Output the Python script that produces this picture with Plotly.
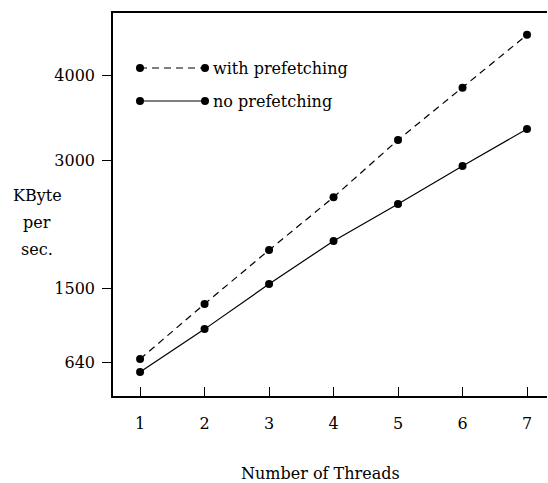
import plotly.graph_objects as go

threads = [1, 2, 3, 4, 5, 6, 7]
with_prefetching = [675, 1320, 1950, 2570, 3240, 3850, 4470]
no_prefetching = [523, 1025, 1553, 2057, 2490, 2935, 3368]
y_ticks = [640, 1500, 3000, 4000]
x_ticks = [1, 2, 3, 4, 5, 6, 7]
series_names = ["with prefetching", "no prefetching"]
y_title_lines = ["KByte", "per", "sec."]

FONT = "DejaVu Serif"
fig = go.Figure()
fig.add_trace(go.Scatter(
    x=threads, y=with_prefetching, mode="lines+markers", name=series_names[0],
    line=dict(color="black", width=1.2, dash="7px,5px"),
    marker=dict(color="black", size=8), showlegend=False))
fig.add_trace(go.Scatter(
    x=threads, y=no_prefetching, mode="lines+markers", name=series_names[1],
    line=dict(color="black", width=1.2),
    marker=dict(color="black", size=8), showlegend=False))

W, H = 548, 483
L, R, T, B = 113, 1, 13, 87
pw, ph = W - L - R, H - T - B

def px(xp):
    return (xp - L) / pw

def py(yp):
    return (H - B - yp) / ph

shapes = []
annotations = []
legend_rows = [(68, "7px,5px", series_names[0]), (101, "solid", series_names[1])]
for ypix, dash, name in legend_rows:
    shapes.append(dict(type="line", xref="paper", yref="paper",
                       x0=px(140), x1=px(205), y0=py(ypix), y1=py(ypix),
                       line=dict(color="black", width=1.2, dash=dash)))
    for xc in (140, 205):
        shapes.append(dict(type="circle", xref="paper", yref="paper",
                           x0=px(xc - 4), x1=px(xc + 4), y0=py(ypix + 4), y1=py(ypix - 4),
                           fillcolor="black", line=dict(color="black", width=0)))
    annotations.append(dict(xref="paper", yref="paper", x=px(211), y=py(ypix),
                            xanchor="left", yanchor="middle", text=name, showarrow=False,
                            font=dict(family=FONT, size=16, color="black")))

for i, line in enumerate(y_title_lines):
    annotations.append(dict(xref="paper", yref="paper", x=px(37), y=py(196 + 26.5 * i),
                            xanchor="center", yanchor="middle",
                            text=line, showarrow=False,
                            font=dict(family=FONT, size=16, color="black")))
annotations.append(dict(xref="paper", yref="paper", x=px(320), y=py(474),
                        xanchor="center", yanchor="middle",
                        text="Number of Threads", showarrow=False,
                        font=dict(family=FONT, size=16, color="black")))

fig.update_layout(
    width=W, height=H,
    margin=dict(l=L, r=R, t=T, b=B),
    paper_bgcolor="white", plot_bgcolor="white",
    font=dict(family=FONT, size=16, color="black"),
    shapes=shapes, annotations=annotations,
    xaxis=dict(range=[0.58, 7.31], tickvals=x_ticks, ticks="inside", ticklen=9,
               tickwidth=1.2, tickcolor="black", showgrid=False, zeroline=False,
               showline=True, linecolor="black", linewidth=1.5, mirror=True,
               ticklabelstandoff=12),
    yaxis=dict(range=[242, 4726], tickvals=y_ticks, ticks="outside", ticklen=9,
               tickwidth=1.2, tickcolor="black", showgrid=False, zeroline=False,
               showline=True, linecolor="black", linewidth=1.5, mirror=False,
               ticklabelstandoff=4),
)
fig.write_html("out.html", config={"displayModeBar": False},
               post_script="document.body.style.margin='0';document.body.style.overflow='hidden';")
